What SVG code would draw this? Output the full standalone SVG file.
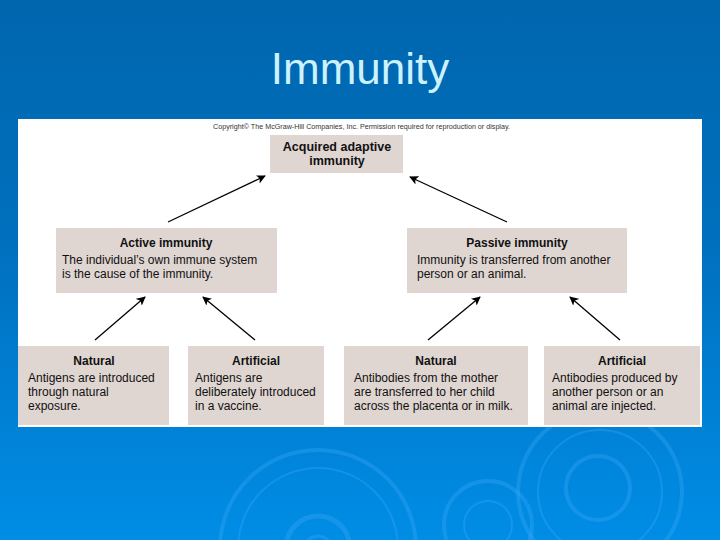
<svg xmlns="http://www.w3.org/2000/svg" width="720" height="540" viewBox="0 0 720 540">
<defs>
<linearGradient id="bg" x1="0" y1="0" x2="0" y2="1">
<stop offset="0" stop-color="#0066AE"/>
<stop offset="0.45" stop-color="#0070BE"/>
<stop offset="1" stop-color="#008DE6"/>
</linearGradient>
<marker id="ah" viewBox="0 0 10 10" refX="9" refY="5" markerWidth="9" markerHeight="9" markerUnits="userSpaceOnUse" orient="auto">
<path d="M0,0 L10,5 L0,10 L2.5,5 Z" fill="#000"/>
</marker>
<style>
.box{fill:#DFD5D1}
.t{font-family:"Liberation Sans",Arial,sans-serif;font-size:12px;fill:#111}
.b{font-family:"Liberation Sans",Arial,sans-serif;font-size:12px;font-weight:bold;fill:#111;text-anchor:middle}
.c{fill:none;stroke:#3AA8F5;stroke-opacity:0.35}
.ar{stroke:#000;stroke-width:1.3;fill:none;marker-end:url(#ah)}
</style>
</defs>
<rect width="720" height="540" fill="url(#bg)"/>
<g id="ripples">
<circle class="c" cx="318" cy="548" r="98" stroke-width="4"/>
<circle class="c" cx="318" cy="548" r="80" stroke-width="2"/>
<circle class="c" cx="318" cy="548" r="32" stroke-width="5"/>
<circle class="c" cx="318" cy="550" r="14" stroke-width="3"/>
<circle class="c" cx="488" cy="525" r="44" stroke-width="4"/>
<circle class="c" cx="488" cy="525" r="24" stroke-width="2"/>
<circle class="c" cx="600" cy="492" r="82" stroke-width="4"/>
<circle class="c" cx="600" cy="492" r="62" stroke-width="2"/>
<circle class="c" cx="598" cy="488" r="32" stroke-width="4"/>
</g>
<text x="360" y="84" text-anchor="middle" font-family="'Liberation Sans',Arial,sans-serif" font-size="44" fill="#CCF2FF">Immunity</text>
<rect x="18" y="119" width="684" height="308" fill="#FFFFFF"/>
<text x="213" y="129" font-family="'Liberation Sans',Arial,sans-serif" font-size="7" fill="#333" textLength="297" lengthAdjust="spacingAndGlyphs">Copyright© The McGraw-Hill Companies, Inc. Permission required for reproduction or display.</text>
<g id="connectors">
<line class="ar" x1="168" y1="222" x2="265" y2="176"/>
<line class="ar" x1="507" y1="222" x2="410" y2="177"/>
<line class="ar" x1="95" y1="340" x2="145" y2="297"/>
<line class="ar" x1="255" y1="340" x2="203" y2="297"/>
<line class="ar" x1="428" y1="340" x2="480" y2="297"/>
<line class="ar" x1="620" y1="340" x2="570" y2="297"/>
</g>
<g id="acquired">
<rect class="box" x="270" y="135" width="133" height="38"/>
<text class="b" x="337" y="151" style="font-size:12.5px">Acquired adaptive</text>
<text class="b" x="337" y="165" style="font-size:12.5px">immunity</text>
</g>
<g id="active">
<rect class="box" x="56" y="228" width="221" height="65"/>
<text class="b" x="166" y="247">Active immunity</text>
<text class="t" x="62" y="264">The individual’s own immune system</text>
<text class="t" x="62" y="278">is the cause of the immunity.</text>
</g>
<g id="passive">
<rect class="box" x="407" y="228" width="220" height="65"/>
<text class="b" x="517" y="247">Passive immunity</text>
<text class="t" x="417" y="264">Immunity is transferred from another</text>
<text class="t" x="417" y="278">person or an animal.</text>
</g>
<g id="active-natural">
<rect class="box" x="18" y="346" width="151" height="79"/>
<text class="b" x="94" y="365">Natural</text>
<text class="t" x="28" y="382">Antigens are introduced</text>
<text class="t" x="28" y="396">through natural</text>
<text class="t" x="28" y="410">exposure.</text>
</g>
<g id="active-artificial">
<rect class="box" x="188" y="346" width="136" height="79"/>
<text class="b" x="256" y="365">Artificial</text>
<text class="t" x="195" y="382">Antigens are</text>
<text class="t" x="195" y="396">deliberately introduced</text>
<text class="t" x="195" y="410">in a vaccine.</text>
</g>
<g id="passive-natural">
<rect class="box" x="344" y="346" width="184" height="79"/>
<text class="b" x="436" y="365">Natural</text>
<text class="t" x="354" y="382">Antibodies from the mother</text>
<text class="t" x="354" y="396">are transferred to her child</text>
<text class="t" x="354" y="410">across the placenta or in milk.</text>
</g>
<g id="passive-artificial">
<rect class="box" x="544" y="346" width="156" height="79"/>
<text class="b" x="622" y="365">Artificial</text>
<text class="t" x="552" y="382">Antibodies produced by</text>
<text class="t" x="552" y="396">another person or an</text>
<text class="t" x="552" y="410">animal are injected.</text>
</g>
</svg>
